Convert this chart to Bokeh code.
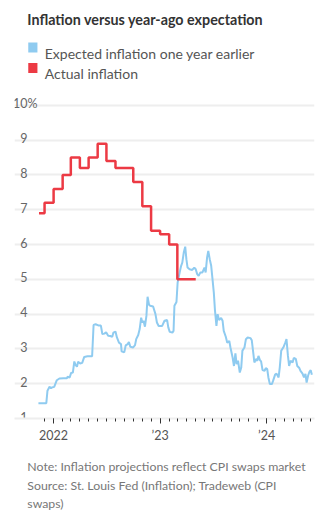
import pandas as pd
from bokeh.plotting import figure
from bokeh.layouts import column
from bokeh.models import Range1d, FixedTicker, Grid, CustomJSTickFormatter
from bokeh.core.properties import value
from bokeh.embed import file_html
from bokeh.resources import INLINE

# ---------------- data ----------------
title_text = "Inflation versus year-ago expectation"
legend_labels = ["Expected inflation one year earlier", "Actual inflation"]
note_lines = [
    "Note: Inflation projections reflect CPI swaps market",
    "Source: St. Louis Fed (Inflation); Tradeweb (CPI",
    "swaps)",
]

expected_dates = [
    "2021-11-10", "2021-12-07", "2021-12-11", "2021-12-18", "2021-12-23", "2021-12-26",
    "2022-01-03", "2022-01-12", "2022-01-21", "2022-02-04", "2022-02-16", "2022-02-18",
    "2022-02-25", "2022-03-02", "2022-03-08", "2022-03-13", "2022-03-17", "2022-03-22",
    "2022-03-26", "2022-04-02", "2022-04-09", "2022-04-16", "2022-04-27", "2022-05-13",
    "2022-05-18", "2022-05-25", "2022-06-05", "2022-06-12", "2022-06-17", "2022-06-24",
    "2022-06-30", "2022-07-07", "2022-07-14", "2022-07-21", "2022-07-25", "2022-08-01",
    "2022-08-06", "2022-08-13", "2022-08-20", "2022-08-22", "2022-08-31", "2022-09-05",
    "2022-09-12", "2022-09-16", "2022-09-21", "2022-09-30", "2022-10-07", "2022-10-11",
    "2022-10-18", "2022-10-23", "2022-10-28", "2022-11-01", "2022-11-05", "2022-11-10",
    "2022-11-15", "2022-11-19", "2022-11-24", "2022-11-28", "2022-12-08", "2022-12-16",
    "2022-12-21", "2022-12-27", "2023-01-08", "2023-01-16", "2023-01-25", "2023-01-29",
    "2023-02-03", "2023-02-12", "2023-02-16", "2023-02-19", "2023-02-26", "2023-03-02",
    "2023-03-09", "2023-03-14", "2023-03-18", "2023-03-23", "2023-03-28", "2023-04-01",
    "2023-04-05", "2023-04-12", "2023-04-21", "2023-04-28", "2023-05-03", "2023-05-08",
    "2023-05-13", "2023-05-19", "2023-05-26", "2023-06-02", "2023-06-06", "2023-06-11",
    "2023-06-15", "2023-06-20", "2023-06-25", "2023-06-29", "2023-07-04", "2023-07-08",
    "2023-07-13", "2023-07-17", "2023-07-22", "2023-07-29", "2023-08-03", "2023-08-07",
    "2023-08-14", "2023-08-19", "2023-08-26", "2023-08-30", "2023-09-06", "2023-09-11",
    "2023-09-16", "2023-09-20", "2023-09-25", "2023-10-01", "2023-10-06", "2023-10-10",
    "2023-10-17", "2023-10-22", "2023-10-28", "2023-11-07", "2023-11-11", "2023-11-16",
    "2023-11-20", "2023-11-25", "2023-11-30", "2023-12-04", "2023-12-09", "2023-12-13",
    "2023-12-18", "2023-12-25", "2023-12-29", "2024-01-03", "2024-01-07", "2024-01-12",
    "2024-01-19", "2024-01-23", "2024-01-30", "2024-02-04", "2024-02-11", "2024-02-15",
    "2024-02-20", "2024-02-27", "2024-03-05", "2024-03-09", "2024-03-14", "2024-03-18",
    "2024-03-23", "2024-03-30", "2024-04-03", "2024-04-10", "2024-04-15", "2024-04-22",
    "2024-04-26", "2024-05-03", "2024-05-08", "2024-05-13", "2024-05-17", "2024-05-22",
    "2024-05-27", "2024-05-31", "2024-06-04",
]
expected_values = [
    1.44, 1.44, 1.80, 1.91, 1.87, 1.89,
    1.91, 2.10, 2.15, 2.16, 2.16, 2.20,
    2.18, 2.31, 2.32, 2.64, 2.54, 2.49,
    2.63, 2.58, 2.60, 2.77, 2.79, 2.79,
    3.69, 3.71, 3.67, 3.67, 3.43, 3.44,
    3.48, 3.38, 3.37, 3.35, 3.47, 3.50,
    3.33, 3.18, 3.14, 2.93, 2.90, 3.10,
    3.14, 3.20, 3.06, 3.04, 3.11, 3.28,
    3.40, 3.57, 3.90, 3.76, 3.81, 3.64,
    3.95, 4.50, 4.27, 4.24, 4.22, 4.00,
    3.76, 3.66, 3.66, 3.81, 3.83, 3.62,
    3.49, 3.47, 3.52, 4.24, 4.35, 4.91,
    5.20, 5.39, 5.48, 5.77, 5.94, 5.58,
    5.34, 5.29, 5.27, 5.34, 5.29, 5.15,
    5.10, 5.20, 5.20, 5.34, 5.20, 5.63,
    5.82, 5.58, 5.39, 5.05, 4.62, 4.10,
    3.66, 4.00, 3.83, 3.89, 3.81, 3.52,
    3.35, 3.18, 3.23, 3.04, 2.77, 2.51,
    2.87, 2.56, 2.66, 2.32, 2.47, 2.95,
    3.04, 3.28, 3.33, 3.31, 3.25, 2.90,
    2.61, 2.71, 2.66, 2.80, 2.68, 2.64,
    2.39, 2.37, 2.45, 2.42, 2.18, 1.99,
    1.99, 2.08, 2.26, 2.29, 2.18, 2.47,
    2.95, 3.04, 3.18, 3.28, 2.80, 2.51,
    2.66, 2.61, 2.74, 2.71, 2.51, 2.45,
    2.37, 2.29, 2.18, 2.28, 2.03, 2.23,
    2.35, 2.39, 2.26,
]

actual_dates = [
    "2021-11-12", "2021-12-01", "2022-01-01", "2022-02-01", "2022-03-01", "2022-04-01",
    "2022-05-01", "2022-06-01", "2022-07-01", "2022-08-01", "2022-09-01", "2022-10-01",
    "2022-11-01", "2022-12-01", "2023-01-01", "2023-02-01", "2023-03-01", "2023-04-01",
    "2023-05-03",
]
actual_values = [
    6.9, 7.2, 7.6, 8.0, 8.5, 8.2,
    8.5, 8.9, 8.4, 8.2, 8.2, 7.8,
    7.1, 6.4, 6.3, 6.0, 5.0, 5.0,
    5.0,
]

y_ticks = [1, 2, 3, 4, 5, 6, 7, 8, 9, 10]
y_tick_labels = ["1", "2", "3", "4", "5", "6", "7", "8", "9", "10"]
year_tick_dates = ["2022-01-01", "2023-01-01", "2024-01-01"]
year_tick_labels = ["2022", "\u201923", "\u201924"]
x_start, x_end = "2021-08-20", "2024-06-13"

# ---------------- style ----------------
BLUE = "#8fcbf0"
RED = "#ec3a44"
FONT = "Lato"
GRID = "#eeeeee"

W = 327
HEAD_H = 91
FRAME_H = 327
BOTTOM = 36
MAIN_H = FRAME_H + BOTTOM
FOOT_H = 520 - HEAD_H - MAIN_H


def blank(h, y0, y1):
    f = figure(width=W, height=h, x_range=Range1d(0, W), y_range=Range1d(y1, y0),
               x_axis_location=None, y_axis_location=None, toolbar_location=None,
               output_backend="svg", min_border=0)
    f.grid.visible = False
    f.outline_line_color = None
    return f


# header
head = blank(HEAD_H, 0, HEAD_H)
head.text(x=[14], y=[18.5], text=[title_text], text_font=value(FONT),
          text_font_style="bold", text_font_size="14.3px", text_color="#333333",
          text_baseline="alphabetic")
head.quad(left=[15, 15], right=[25, 25], top=[42, 62.5], bottom=[52, 72.5],
          fill_color=[BLUE, RED], line_color=None)
head.text(x=[33, 33], y=[52.5, 72.5], text=legend_labels, text_font=value(FONT),
          text_font_size="14px", text_color="#555555", text_baseline="alphabetic")

# main chart
xs = pd.to_datetime(expected_dates)
ax = pd.to_datetime(actual_dates)
p = figure(width=W, height=MAIN_H, x_axis_type="datetime",
           x_range=Range1d(pd.Timestamp(x_start), pd.Timestamp(x_end)),
           y_range=Range1d(1, 10.4), y_axis_location=None,
           toolbar_location=None, output_backend="svg",
           min_border_left=14, min_border_right=13, min_border_top=0,
           min_border_bottom=BOTTOM)
p.xgrid.visible = False
p.ygrid.visible = False
p.outline_line_color = None
p.add_layout(Grid(dimension=1, ticker=FixedTicker(ticks=y_ticks),
                  grid_line_color=GRID, grid_line_width=2), "center")

p.line(xs, expected_values, line_color=BLUE, line_width=2)
p.step(ax, actual_values, mode="after", line_color=RED, line_width=2.5)

xstart = [pd.Timestamp(x_start)] * len(y_ticks)
p.text(x=xstart, y=y_ticks, text=y_tick_labels, x_offset=13, y_offset=-2,
       text_align="right", text_baseline="alphabetic", text_font=value(FONT),
       text_font_size="12.5px", text_color="#666666")
p.text(x=[pd.Timestamp(x_start)], y=[y_ticks[-1]], text=["%"], x_offset=13, y_offset=-2,
       text_align="left", text_baseline="alphabetic", text_font=value(FONT),
       text_font_size="12.5px", text_color="#666666")

major = [pd.Timestamp(d).value // 10**6 for d in year_tick_dates]
minor = [d.value // 10**6 for d in pd.date_range("2021-12-01", "2024-06-01", freq="MS")]
xa = p.xaxis[0]
xa.ticker = FixedTicker(ticks=major, minor_ticks=minor)
xa.formatter = CustomJSTickFormatter(args=dict(labels=year_tick_labels), code="""
    const y = new Date(tick).getUTCFullYear();
    return labels[y - 2022];
""")
xa.axis_line_color = GRID
xa.axis_line_width = 2
xa.major_tick_in = 0
xa.major_tick_out = 5
xa.minor_tick_in = 0
xa.minor_tick_out = 3
xa.major_tick_line_color = "#333333"
xa.minor_tick_line_color = "#333333"
xa.major_label_standoff = 4
xa.major_label_text_font = FONT
xa.major_label_text_font_size = "12.5px"
xa.major_label_text_color = "#555555"

# footer
foot = blank(FOOT_H, HEAD_H + MAIN_H, 520)
foot.text(x=[14, 14, 14], y=[466, 484.5, 503], text=note_lines, text_font=value(FONT),
          text_font_size="12.3px", text_color="#777777", text_baseline="alphabetic")

layout = column(head, p, foot, spacing=0)
open("out.html", "w").write(file_html(layout, INLINE))
